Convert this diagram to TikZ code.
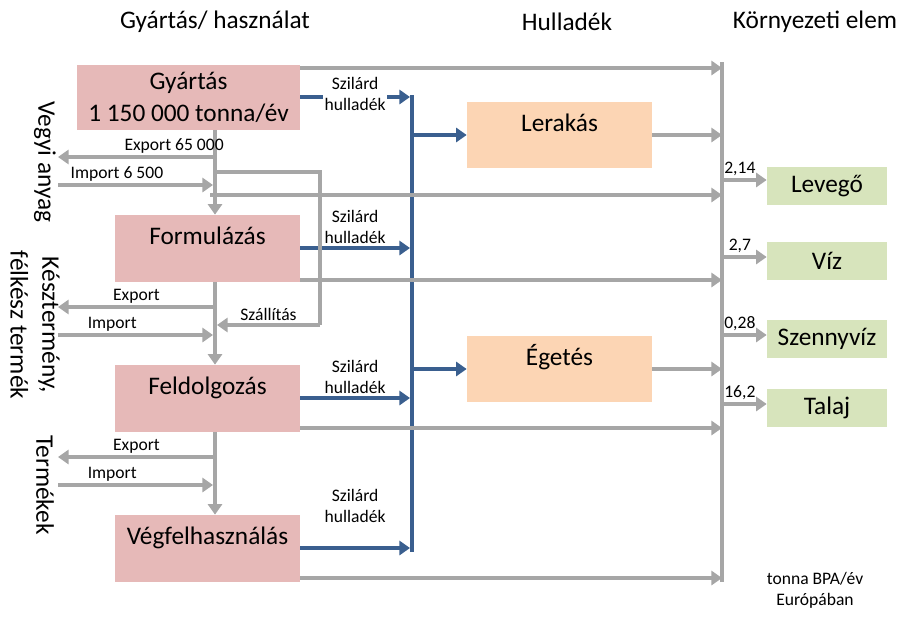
\documentclass[tikz,border=0pt]{standalone}
\usepackage{fontspec}
\setmainfont{Carlito}
\usetikzlibrary{arrows.meta}
\definecolor{pinkbox}{HTML}{E6B9B8}
\definecolor{orangebox}{HTML}{FCD5B4}
\definecolor{greenbox}{HTML}{D7E4BC}
\definecolor{flowgray}{HTML}{A6A6A6}
\definecolor{flowblue}{HTML}{3A5F8F}
\newcommand{\upper}[1]{\raisebox{2pt}[0pt][0pt]{#1}}
\tikzset{
  pbox/.style = {fill = pinkbox, inner sep = 0pt, font = \Large},
  obox/.style = {fill = orangebox, minimum width = 3.7cm, minimum height = 1.32cm, font = \Large},
  gbox/.style = {fill = greenbox, minimum width = 2.4cm, minimum height = 0.76cm, font = \Large},
  garrow/.style = {flowgray, line width = 2.6pt, -{Triangle[length=6pt, width=8pt]}},
  gline/.style = {flowgray, line width = 2.6pt},
  barrow/.style = {flowblue, line width = 2.6pt, -{Triangle[length=6pt, width=8pt]}},
  lbl/.style = {font = \normalsize, inner sep = 1pt, text = black},
}
\begin{document}
\begin{tikzpicture}[x = 0.02cm, y = -0.02cm]
    \useasboundingbox (0,0) rectangle (918,616);

    % headers
    \node[font = \Large] (hGy) at (215,22) {Gyártás/ használat};
    \node[font = \Large] (hHu) at (567,22) {Hulladék};
    \node[font = \Large] (hKo) at (815,22) {Környezeti elem};

    % process boxes
    \node[pbox, minimum width = 4.46cm, minimum height = 1.3cm, align = center] (gyartas) at (188.5,97.5) {Gyártás\\1 150 000 tonna/év};
    \node[pbox, minimum width = 3.7cm, minimum height = 1.34cm] (form) at (207.5,248.5) {\upper{Formulázás}};
    \node[pbox, minimum width = 3.7cm, minimum height = 1.34cm] (feld) at (207.5,398.5) {\upper{Feldolgozás}};
    \node[pbox, minimum width = 3.7cm, minimum height = 1.34cm] (vegf) at (207.5,548.5) {\upper{Végfelhasználás}};

    \node[obox] (lerakas) at (559.5,135) {\upper{Lerakás}};
    \node[obox] (egetes) at (559.5,369) {\upper{Égetés}};

    \node[gbox] (levego) at (827,186) {Levegő};
    \node[gbox] (viz) at (827,261) {Víz};
    \node[gbox] (szenny) at (827,339) {Szennyvíz};
    \node[gbox] (talaj) at (827,408) {Talaj};

    % collecting lines
    \coordinate (envTop) at (722,62);
    \coordinate (envBot) at (722,582);
    \draw[gline] (envTop) -- (envBot);
    \coordinate (wTop) at (412,95);
    \coordinate (wBot) at (412,552);
    \draw[flowblue, line width = 2.6pt] (wTop) -- (wBot);

    % to environment
    \draw[garrow] (gyartas.east |- 0,68) -- (722,68);
    \draw[garrow] (lerakas.east) -- (722,135);
    \draw[garrow] (form.east |- 0,280) -- (722,280);
    \draw[garrow] (egetes.east) -- (722,369);
    \draw[garrow] (feld.east |- 0,428) -- (722,428);
    \draw[garrow] (vegf.east |- 0,578) -- (722,578);
    \draw[garrow] (722,180) -- (levego.west |- 0,180) node[lbl, pos = 0.4, above] {2,14};
    \draw[garrow] (722,257) -- (viz.west |- 0,257) node[lbl, pos = 0.4, above] {2,7};
    \draw[garrow] (722,335) -- (szenny.west |- 0,335) node[lbl, pos = 0.4, above] {0,28};
    \draw[garrow] (722,404) -- (talaj.west |- 0,404) node[lbl, pos = 0.4, above] {16,2};

    % solid waste
    \draw[barrow] (gyartas.east |- 0,97) -- (410,97) node[lbl, midway, above, yshift = -10pt, fill = white, align = center] {Szilárd\\hulladék};
    \draw[barrow] (form.east |- 0,248) -- (410,248) node[lbl, midway, above, align = center] {Szilárd\\hulladék};
    \draw[barrow] (feld.east |- 0,398) -- (410,398) node[lbl, midway, above, align = center] {Szilárd\\hulladék};
    \draw[barrow] (vegf.east |- 0,548) -- (410,548) node[lbl, midway, above, yshift = 12pt, align = center] {Szilárd\\hulladék};
    \draw[barrow] (412,135) -- (lerakas.west);
    \draw[barrow] (412,369) -- (egetes.west);

    % chain
    \draw[garrow] (215,130) -- (form.north -| 215,0);
    \draw[garrow] (215,282) -- (feld.north -| 215,0);
    \draw[garrow] (215,432) -- (vegf.north -| 215,0);

    % trade
    \draw[garrow] (215,157) -- (58,157) node[lbl, pos = 0.35, above, xshift = 8pt] {Export 65 000};
    \draw[garrow] (58,185) -- (213,185) node[lbl, pos = 0.38, above] {Import 6 500};
    \draw[garrow] (210,195) -- (722,195);
    \draw[gline] (215,172) -- (320,172) -- (320,325);
    \draw[garrow] (320,325) -- (217,325) node[lbl, midway, above] {Szállítás};
    \draw[garrow] (215,307) -- (58,307) node[lbl, pos = 0.5, above] {Export};
    \draw[garrow] (58,335) -- (213,335) node[lbl, pos = 0.35, above] {Import};
    \draw[garrow] (215,457) -- (58,457) node[lbl, pos = 0.5, above] {Export};
    \draw[garrow] (58,485) -- (213,485) node[lbl, pos = 0.35, above] {Import};

    % side labels
    \node[font = \Large, rotate = -90] (vegyi) at (45,162) {Vegyi anyag};
    \node[font = \Large, rotate = -90, align = center] (kesz) at (35,325) {Késztermény,\\félkész termék};
    \node[font = \Large, rotate = -90] (term) at (45,485) {Termékek};

    \node[lbl, align = center] (unit) at (815,590) {tonna BPA/év\\Európában};
\end{tikzpicture}
\end{document}
